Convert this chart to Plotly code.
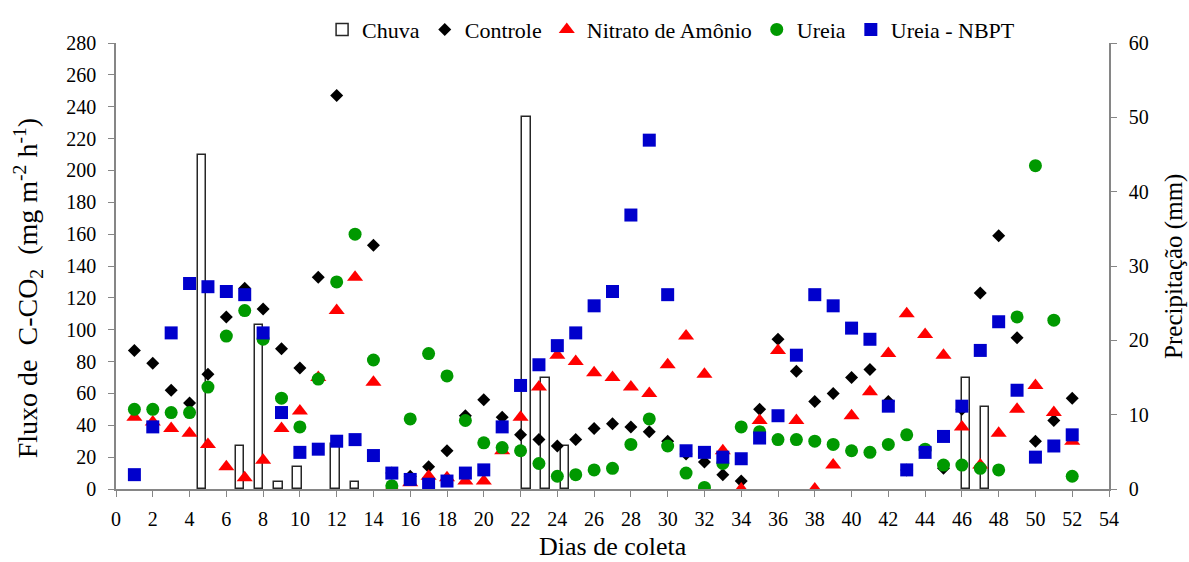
import plotly.graph_objects as go

# Collection days
dias = list(range(1, 53))

# Rainfall per collection (mm)
chuva = [0, 0, 0, 0, 45, 0, 5.8, 22, 1, 3, 0, 6, 1, 0, 0, 0, 0, 0, 0, 0,
         0, 50, 15, 5.8, 0, 0, 0, 0, 0, 0, 0, 0, 0, 0, 0, 0, 0, 0, 0, 0,
         0, 0, 0, 0, 15, 11, 0, 0, 0, 0, 0, 0]

# C-CO2 flux (mg m-2 h-1) per treatment
controle = [87, 79, 62, 54, 72, 108, 126, 113, 88, 76, 133, 247, None, 153, 10,
            8, 14, 24, 46, 56, 45, 34, 31, 27, 31, 38, 41, 39, 36, 30,
            22, 17, 9, 5, 50, 94, 74, 55, 60, 70, 75, 55, 12, 24, 13,
            50, 123, 159, 95, 30, 43, 57]
nitrato = [45, 42, 38, 35, 28, 14, 7, 18, 38, 49, 70, 112, 133, 67, 1,
           4, 8, 7, 5, 5, 24, 45, 64, 84, 80, 73, 70, 64, 60, 78,
           96, 72, 24, 0, 43, 87, 43, 0, 15, 46, 61, 85, 110, 97, 84,
           39, 15, 35, 50, 65, 48, 30]
ureia = [50, 50, 48, 48, 64, 96, 112, 94, 57, 39, 69, 130, 160, 81, 2,
         44, 85, 71, 43, 29, 26, 24, 16, 8, 9, 12, 13, 28, 44, 27,
         10, 1, 16, 39, 36, 31, 31, 30, 28, 24, 23, 28, 34, 25, 15,
         15, 13, 12, 108, 203, 106, 8]
ureia_nbpt = [9, 39, 98, 129, 127, 124, 122, 98, 48, 23, 25, 30, 31, 21, 10,
              6, 3, 5, 10, 12, 39, 65, 78, 90, 98, 115, 124, 172, 219, 122,
              24, 23, 20, 19, 32, 46, 84, 122, 115, 101, 94, 52, 12, 23, 33,
              52, 87, 105, 62, 20, 27, 34]

FONT = "Liberation Serif"
AXIS_GRAY = "#868686"

fig = go.Figure()

# Rain bars on the base subplot (category index axis, right-hand mm axis);
# dry days are left empty so no stub is drawn on the baseline
fig.add_trace(go.Bar(
    x=dias, y=[v if v > 0 else None for v in chuva], name="Chuva", width=0.44,
    marker=dict(color="white", line=dict(color="#262626", width=1.5)),
    xaxis="x", yaxis="y",
))

series = [
    ("Controle", controle, "diamond", "black", 10),
    ("Nitrato de Amônio", nitrato, "triangle-up", "#FF0000", 14),
    ("Ureia", ureia, "circle", "#009900", 13),
    ("Ureia - NBPT", ureia_nbpt, "square", "#0000CC", 13),
]
for name, vals, sym, col, size in series:
    fig.add_trace(go.Scatter(
        x=dias, y=vals, name=name, mode="markers",
        marker=dict(symbol=sym, color=col, size=size, line=dict(width=0)),
        xaxis="x2", yaxis="y2",
    ))

tickfont = dict(family=FONT, size=20, color="black")
axis_common = dict(showline=True, linecolor=AXIS_GRAY, linewidth=1.5,
                   ticks="outside", ticklen=6, tickcolor=AXIS_GRAY,
                   showgrid=False, zeroline=False, tickfont=tickfont)

fig.update_layout(
    width=1189, height=562,
    margin=dict(l=116, r=80, t=43, b=73, autoexpand=False),
    paper_bgcolor="white", plot_bgcolor="white",
    font=dict(family=FONT, size=20, color="black"),
    bargap=0,
    xaxis=dict(range=[0.5, 52.5], visible=False, domain=[0, 1]),
    yaxis=dict(range=[0, 60], dtick=10, side="right", anchor="x",
               ticklabelstandoff=8, **axis_common),
    xaxis2=dict(range=[0, 54], dtick=2, overlaying="x", anchor="y2",
                side="bottom", ticklabelstandoff=5, **axis_common),
    yaxis2=dict(range=[0, 280], dtick=20, overlaying="y", anchor="x2",
                side="left", ticklabelstandoff=8, **axis_common),
    legend=dict(orientation="h", x=0.559, xanchor="center",
                y=1.03, yanchor="middle", font=dict(family=FONT, size=22),
                bgcolor="rgba(0,0,0,0)", itemwidth=30),
    annotations=[
        dict(text="Fluxo de&nbsp; C-CO<sub>2</sub>&nbsp; (mg m<sup>-2</sup> h<sup>-1</sup>)",
             xref="paper", yref="paper", x=-0.0886, y=0.45,
             textangle=-90, showarrow=False, font=dict(family=FONT, size=28),
             xanchor="center", yanchor="middle"),
        dict(text="Dias de coleta", xref="paper", yref="paper",
             x=0.5005, y=-0.128, showarrow=False,
             font=dict(family=FONT, size=26), xanchor="center",
             yanchor="middle"),
        dict(text="Precipitação (mm)", xref="paper", yref="paper",
             x=1.0655, y=0.498, textangle=-90, showarrow=False,
             font=dict(family=FONT, size=25), xanchor="center",
             yanchor="middle"),
    ],
)

fig.write_html("out.html")
